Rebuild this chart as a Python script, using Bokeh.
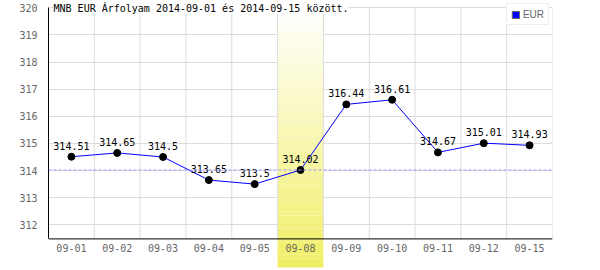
from bokeh.plotting import figure
from bokeh.models import Range1d, FixedTicker, Span, Legend, LegendItem, ColumnDataSource
from bokeh.core.properties import value
from bokeh.embed import file_html
from bokeh.resources import INLINE

# ---- data ----
dates = ["09-01", "09-02", "09-03", "09-04", "09-05", "09-08",
         "09-09", "09-10", "09-11", "09-12", "09-15"]
rates = [314.51, 314.65, 314.5, 313.65, 313.5, 314.02,
         316.44, 316.61, 314.67, 315.01, 314.93]
highlight_date = "09-08"
reference_rate = 314.02
y_ticks = [312, 313, 314, 315, 316, 317, 318, 319, 320]
title_text = "MNB EUR Árfolyam 2014-09-01 és 2014-09-15 között."
series_name = "EUR"

# ---- layout constants ----
Y_AXIS_BOTTOM = 311.48
Y_TOP = 320.0
MONO = "DejaVu Sans Mono"

n = len(dates)
xs = [i + 0.5 for i in range(n)]
labels = [f"{v:g}" for v in rates]

p = figure(width=600, height=270, output_backend="svg", toolbar_location=None,
           x_range=Range1d(0, n), y_range=Range1d(310.315, 320.27),
           x_axis_location=None, min_border_left=48, min_border_right=48,
           min_border_top=0, min_border_bottom=0)
p.outline_line_color = None
p.background_fill_color = "white"
p.border_fill_color = "white"
p.xgrid.visible = False

ax = p.yaxis[0]
ax.ticker = FixedTicker(ticks=y_ticks)
ax.bounds = (Y_AXIS_BOTTOM, Y_TOP)
ax.axis_line_color = "black"
ax.major_tick_line_color = None
ax.minor_tick_line_color = None
ax.major_label_standoff = 5
ax.major_label_text_font = MONO
ax.major_label_text_font_size = "10px"
ax.major_label_text_color = "#666666"

p.ygrid.ticker = FixedTicker(ticks=y_ticks)
p.ygrid.grid_line_color = "#dddddd"

# ---- highlighted band with vertical gradient ----
hi = dates.index(highlight_date)
steps = 60
top_v, bot_v = Y_TOP, 310.43
tops, bots, cols = [], [], []
for k in range(steps):
    t0 = k / steps
    t1 = (k + 1) / steps
    tops.append(top_v - (top_v - bot_v) * t0)
    bots.append(top_v - (top_v - bot_v) * t1 - 0.005)
    t = (t0 + t1) / 2
    r = int(round(255 - 15 * t))
    g = int(round(255 - 17 * t))
    b = int(round(255 - 155 * t))
    cols.append(f"#{r:02x}{g:02x}{b:02x}")
p.quad(left=[hi] * steps, right=[hi + 1] * steps, top=tops, bottom=bots,
       fill_color=cols, line_color=None)

# ---- vertical grid lines ----
p.segment(x0=list(range(1, n + 1)), x1=list(range(1, n + 1)),
          y0=[Y_AXIS_BOTTOM] * n, y1=[Y_TOP] * n, line_color="#dddddd", line_width=1)

# ---- bottom axis line ----
p.segment(x0=[0], x1=[n], y0=[Y_AXIS_BOTTOM], y1=[Y_AXIS_BOTTOM], line_color="black", line_width=1)

# ---- reference dashed line ----
p.add_layout(Span(location=reference_rate, dimension="width", line_color="#9999ff",
                  line_dash="3 2", line_width=1))

# ---- series ----
src = ColumnDataSource(dict(x=xs, y=rates, lab=labels))
p.line("x", "y", source=src, line_color="#0000ff", line_width=1)
p.scatter("x", "y", source=src, size=7, fill_color="black", line_color="black")
p.text("x", "y", text="lab", source=src, text_align="center", text_baseline="alphabetic",
       y_offset=-11, text_font=value(MONO), text_font_size="10px", text_color="black")

# ---- x tick labels ----
p.text(x=xs, y=[311.14] * n, text=dates, text_align="center", text_baseline="middle",
       text_font=value(MONO), text_font_size="10px", text_color="#666666")

# ---- title ----
p.text(x=[0.11], y=[319.99], text=[title_text], text_align="left", text_baseline="middle",
       text_font=value(MONO), text_font_size="10px", text_color="black",
       background_fill_color="white")

# ---- legend (swatch renderer kept outside the visible range) ----
dummy = p.quad(left=[-3], right=[-2], top=[300], bottom=[299],
               fill_color="#0000ff", line_color="#666666")
legend = Legend(items=[LegendItem(label=series_name, renderers=[dummy])],
                location="top_right", margin=3, padding=4, spacing=0,
                glyph_width=9, glyph_height=9, label_height=12, label_standoff=3,
                label_text_font="Liberation Sans", label_text_font_size="10px",
                label_text_color="#666666", border_line_color="#dddddd",
                background_fill_color="white", background_fill_alpha=1.0)
p.add_layout(legend)

open("out.html", "w").write(file_html(p, INLINE))
